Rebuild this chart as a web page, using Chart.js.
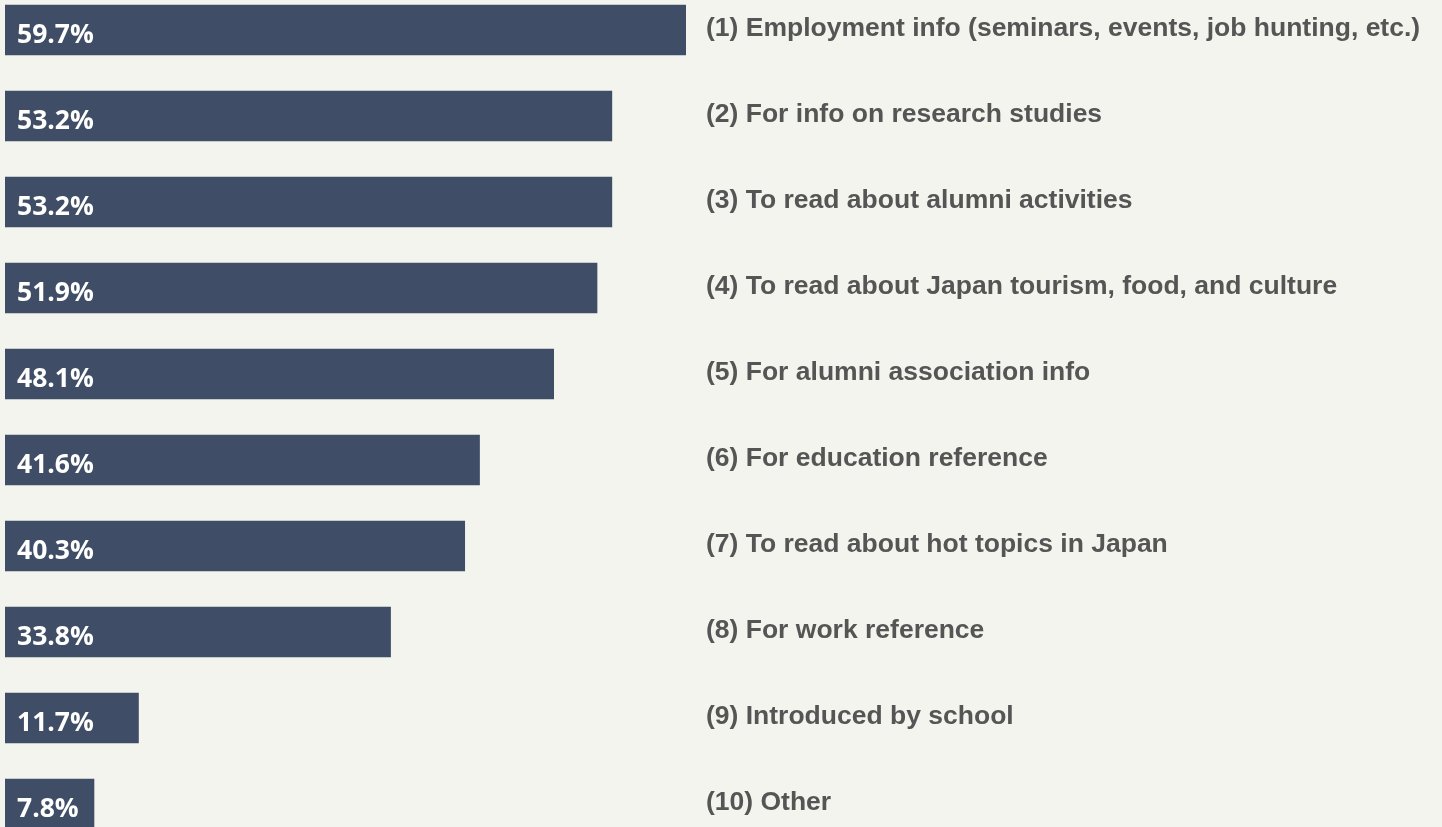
<!DOCTYPE html>
<html>
<head>
<meta charset="utf-8">
<script src="https://cdn.jsdelivr.net/npm/chart.js@4"></script>
<style>
  html, body { margin: 0; padding: 0; background: #f3f4ee; overflow: hidden; }
  #wrap { position: absolute; left: 0; top: -13px; width: 1442px; height: 860px; }
</style>
</head>
<body>
<div id="wrap"><canvas id="reasonChart" width="1442" height="860"></canvas></div>
<script>
const categories = [
  '(1) Employment info (seminars, events, job hunting, etc.)',
  '(2) For info on research studies',
  '(3) To read about alumni activities',
  '(4) To read about Japan tourism, food, and culture',
  '(5) For alumni association info',
  '(6) For education reference',
  '(7) To read about hot topics in Japan',
  '(8) For work reference',
  '(9) Introduced by school',
  '(10) Other'
];
const percentages = [59.7, 53.2, 53.2, 51.9, 48.1, 41.6, 40.3, 33.8, 11.7, 7.8];

// draws value inside bar and category text to the right of the plot
const labelPlugin = {
  id: 'labels',
  afterDatasetsDraw(chart) {
    const c = chart.ctx;
    const area = chart.chartArea;
    const meta = chart.getDatasetMeta(0);
    c.save();
    meta.data.forEach((bar, i) => {
      c.textBaseline = 'middle';
      c.textAlign = 'left';
      c.fillStyle = '#ffffff';
      c.font = 'bold 26.5px "Open Sans", "Noto Sans", sans-serif';
      c.fillText(percentages[i].toFixed(1) + '%', area.left + 12, bar.y + 5);
      c.fillStyle = '#555555';
      c.font = 'bold 26.5px "Liberation Sans", Arial, sans-serif';
      c.fillText(categories[i], area.right + 20, bar.y - 1);
    });
    c.restore();
  }
};

const ctx = document.getElementById('reasonChart').getContext('2d');

new Chart(ctx, {
  type: 'bar',
  data: {
    labels: categories,
    datasets: [{
      data: percentages,
      backgroundColor: '#3f4d66',
      barThickness: 50,
    }],
  },
  options: {
    indexAxis: 'y',
    responsive: false,
    animation: false,
    layout: { padding: { left: 5, right: 756, top: 0, bottom: 0 } },
    plugins: {
      legend: { display: false },
      tooltip: { enabled: false },
    },
    scales: {
      x: { display: false, min: 0, max: 59.7 },
      y: { display: false },
    },
  },
  plugins: [labelPlugin],
});
</script>
</body>
</html>
